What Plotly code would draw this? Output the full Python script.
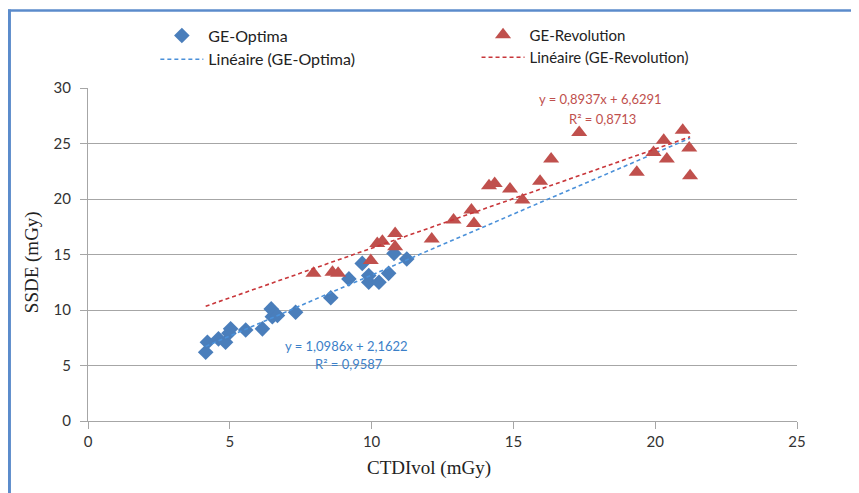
import plotly.graph_objects as go

# ---- data ----
optima_x = [4.15, 4.21, 4.6, 4.85, 4.97, 5.03, 5.56, 6.15, 6.46, 6.5, 6.68, 7.32,
            8.56, 9.2, 9.67, 9.9, 9.9, 10.26, 10.6, 10.79, 11.24]
optima_y = [6.2, 7.1, 7.4, 7.1, 7.9, 8.3, 8.2, 8.3, 10.1, 9.4, 9.5, 9.8,
            11.1, 12.8, 14.2, 13.1, 12.5, 12.5, 13.3, 15.1, 14.6]

revo_x = [7.95, 8.62, 8.82, 9.97, 10.2, 10.38, 10.83, 10.83, 12.12, 12.89, 13.52, 13.61,
          14.14, 14.34, 14.88, 15.32, 15.94, 16.33, 17.32, 19.35, 19.94, 20.3, 20.41,
          20.97, 21.2, 21.23]
revo_y = [13.3, 13.4, 13.3, 14.45, 16.0, 16.2, 16.9, 15.7, 16.4, 18.1, 19.0, 17.8,
          21.2, 21.4, 20.9, 19.9, 21.6, 23.6, 26.0, 22.4, 24.2, 25.3, 23.6,
          26.2, 24.6, 22.1]

# reported linear fits (slope, intercept, R²)
optima_fit = [1.0986, 2.1622, 0.9587]
revo_fit = [0.8937, 6.6291, 0.8713]

x_ticks = [0, 5, 10, 15, 20, 25]
y_ticks = [0, 5, 10, 15, 20, 25, 30]

BLUE = "#4A7EBB"
RED = "#C0504D"
BLUE_LINE = "#4A90D9"
RED_LINE = "#C8363A"
GRID = "#A6A6A6"
FONT = "Lato"
SERIF = "Liberation Serif"

xmin = min(optima_x + revo_x)
xmax = max(optima_x + revo_x)
trend_x = [xmin, xmax]


def fit_line(fit):
    return [fit[0] * v + fit[1] for v in trend_x]


def fmt(v, nd=4):
    return f"{v:.{nd}f}".replace(".", ",")


fig = go.Figure()

fig.add_trace(go.Scatter(
    x=optima_x, y=optima_y, mode="markers", name="GE-Optima",
    marker=dict(symbol="diamond", size=12, color=BLUE),
    legend="legend"))
fig.add_trace(go.Scatter(
    x=trend_x, y=fit_line(optima_fit), mode="lines", name="Linéaire (GE-Optima)",
    line=dict(color=BLUE_LINE, width=1.6, dash="4px,3px"),
    legend="legend"))
fig.add_trace(go.Scatter(
    x=revo_x, y=revo_y, mode="markers", name="GE-Revolution",
    marker=dict(symbol="triangle-up", size=14, color=RED),
    legend="legend2"))
fig.add_trace(go.Scatter(
    x=trend_x, y=fit_line(revo_fit), mode="lines", name="Linéaire (GE-Revolution)",
    line=dict(color=RED_LINE, width=1.6, dash="4px,3px"),
    legend="legend2"))

# equation labels
fig.add_annotation(x=9.12, y=6.8, xref="x", yref="y", showarrow=False,
                   text=f"y = {fmt(optima_fit[0])}x + {fmt(optima_fit[1])}",
                   font=dict(family=FONT, size=13, color="#3C7FC8"))
fig.add_annotation(x=9.19, y=5.1, xref="x", yref="y", showarrow=False,
                   text=f"R² = {fmt(optima_fit[2])}",
                   font=dict(family=FONT, size=13, color="#3C7FC8"))
fig.add_annotation(x=18.08, y=29.05, xref="x", yref="y", showarrow=False,
                   text=f"y = {fmt(revo_fit[0])}x + {fmt(revo_fit[1])}",
                   font=dict(family=FONT, size=13, color=RED))
fig.add_annotation(x=18.15, y=27.25, xref="x", yref="y", showarrow=False,
                   text=f"R² = {fmt(revo_fit[2])}",
                   font=dict(family=FONT, size=13, color=RED))

# axis titles
fig.add_annotation(x=0.4816, y=-0.141, xref="paper", yref="paper", showarrow=False,
                   xanchor="center", yanchor="middle",
                   text="CTDIvol (mGy)", font=dict(family=SERIF, size=19, color="#222"))
fig.add_annotation(x=-0.078, y=0.476, xref="paper", yref="paper", showarrow=False,
                   xanchor="center", yanchor="middle",
                   text="SSDE (mGy)", textangle=-90,
                   font=dict(family=SERIF, size=19, color="#222"))

# frame border (blue lines at top and left)
fig.add_shape(type="line", xref="paper", yref="paper",
              x0=-0.113, x1=1.2, y0=1.233, y1=1.233,
              line=dict(color="#5B8BCB", width=2.5))
fig.add_shape(type="line", xref="paper", yref="paper",
              x0=-0.1115, x1=-0.1115, y0=1.236, y1=-0.3,
              line=dict(color="#5B8BCB", width=4))

fig.update_layout(
    width=859, height=493,
    margin=dict(l=80, r=70, t=79, b=80),
    paper_bgcolor="white", plot_bgcolor="white",
    font=dict(family=FONT, color="#333"),
    legend=dict(x=0.095, y=1.205, xanchor="left", yanchor="top",
                font=dict(family=FONT, size=16, color="#222"),
                bgcolor="rgba(0,0,0,0)", tracegroupgap=0, itemwidth=43),
    legend2=dict(x=0.548, y=1.205, xanchor="left", yanchor="top",
                 font=dict(family=FONT, size=15, color="#222"),
                 bgcolor="rgba(0,0,0,0)", tracegroupgap=0, itemwidth=43),
    xaxis=dict(range=[0, 25], tickvals=x_ticks, showgrid=False, zeroline=False,
               showline=True, linecolor=GRID, linewidth=1.3,
               ticks="outside", ticklen=7, tickcolor=GRID, tickwidth=1.3,
               tickfont=dict(family=FONT, size=15, color="#333")),
    yaxis=dict(range=[0, 30], tickvals=y_ticks, showgrid=True, gridcolor=GRID,
               gridwidth=1.3, zeroline=False,
               showline=True, linecolor=GRID, linewidth=1.3,
               ticks="outside", ticklen=7, tickcolor=GRID, tickwidth=1.3,
               ticklabelstandoff=6,
               tickfont=dict(family=FONT, size=15, color="#333")),
)

fig.write_html("out.html")
